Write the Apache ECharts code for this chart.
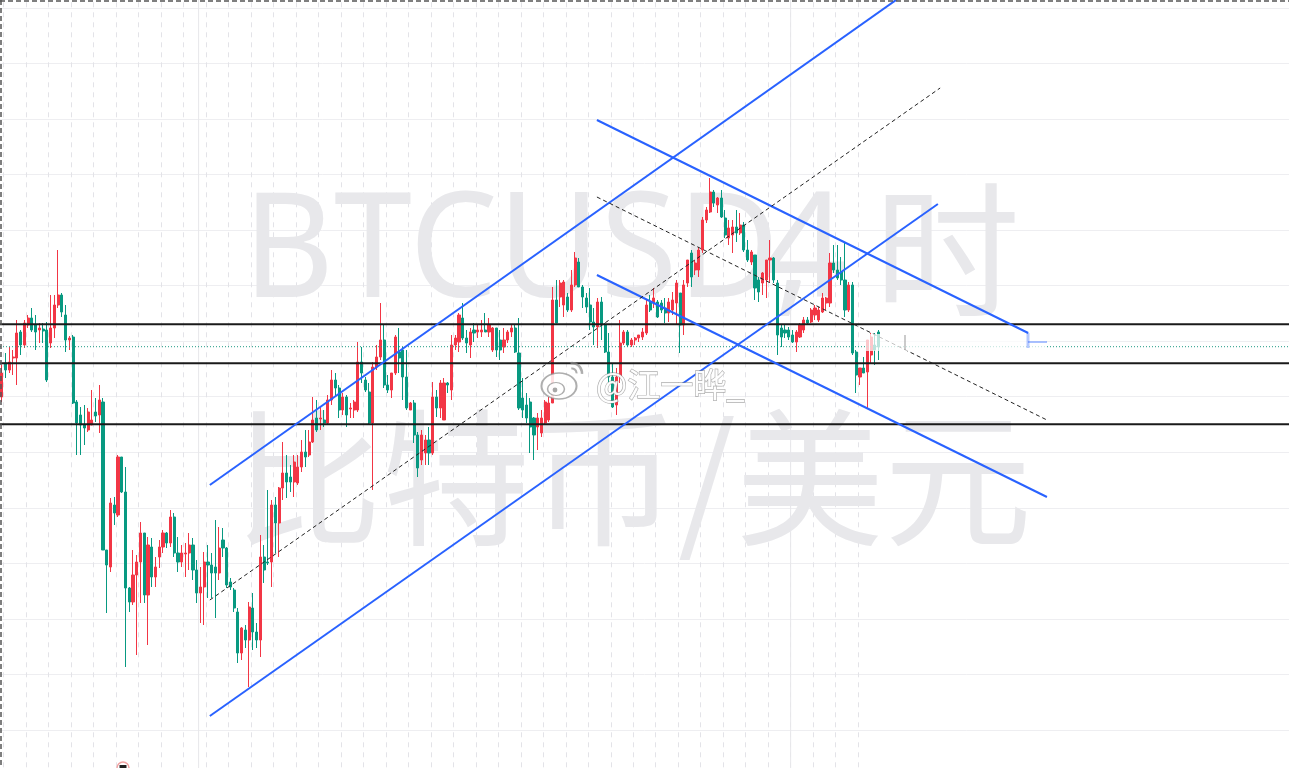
<!DOCTYPE html>
<html><head><meta charset="utf-8">
<script src="https://cdn.jsdelivr.net/npm/echarts@6/dist/echarts.min.js"></script>
<style>html,body{margin:0;padding:0;background:#fff;overflow:hidden}#c{width:1289px;height:768px}</style>
</head><body><div id="c"></div>
<script>
// BTCUSD 4h candles: [open, close, low, high]
const candles = [
[58880,59120,58830,59200],[59220,59150,59070,59320],[59150,59230,59120,59380],[59270,59280,59100,59350],[59270,59520,59000,59650],
[59530,59400,59300,59550],[59400,59620,59370,59650],[59600,59670,59570,59700],[59670,59550,59530,59770],[59600,59530,59350,59700],
[59550,59570,59420,59620],[59560,59540,59420,59620],[59550,59050,59030,59630],[59420,59570,59370,59900],[59570,59800,59470,59900],
[59800,59900,59770,60350],[59900,59730,59680,59920],[59700,59450,59330,59800],[59450,59470,59350,59490],[59480,58820,58810,59500],
[58830,58620,58300,58850],[58700,58600,58300,58780],[58600,58570,58400,58800],[58550,58730,58530,58770],[58600,58650,58600,58950],
[58730,58690,58630,58870],[58700,58850,58520,59000],[58830,57350,57350,58870],[57350,57200,56720,57350],[57180,57820,57130,57870],
[57800,57720,57600,57880],[57700,58280,57680,58300],[58280,57930,57920,58280],[57930,56970,56180,58180],[56970,56830,56730,56980],
[56830,57100,56800,57350],[57100,57230,56300,57300],[57230,57520,56820,57630],[57520,56900,56820,57520],[56900,57400,56400,57480],
[57380,57080,56980,57470],[57080,57180,56980,57280],[57280,57380,57170,57450],[57380,57520,57320,57550],[57520,57420,57370,57530],
[57420,57680,57380,57750],[57680,57320,57280,57720],[57320,57230,57130,57480],[57230,57320,57180,57400],[57310,57320,57080,57420],
[57320,57400,57150,57520],[57400,57150,57050,57470],[57150,56920,56820,57250],[56920,56980,56620,57180],[56980,57230,56600,57330],
[57230,57200,56870,57400],[57200,57120,56870,57320],[57180,57120,56670,57650],[57120,57370,57050,57580],[57450,57370,57280,57570],
[57370,57000,56970,57380],[57030,56980,56950,57070],[56950,56770,56730,56970],[56730,56320,56220,56770],[56320,56570,56250,56580],
[56550,56450,56370,56600],[56450,56780,55980,56830],[56770,56530,56350,56920],[56530,56450,56370,56620],[56450,57280,56280,57500],
[57280,57150,57020,57400],[57230,57220,57200,57950],[57230,57800,56980,57850],[57800,57620,57320,57880],[57620,57970,57280,57980],
[57970,58120,57850,58430],[58120,58030,57870,58300],[58080,58030,57930,58200],[58030,58230,57880,58300],[58020,58180,58000,58300],
[58180,58330,58130,58450],[58330,58280,58180,58550],[58300,58430,58280,58550],[58430,58650,58420,58880],[58670,58550,58530,58850],
[58660,58670,58550,58780],[58650,58620,58580,58750],[58620,58850,58600,58900],[58850,59050,58800,59150],[59050,58970,58880,59120],
[58970,58750,58670,59000],[58750,58880,58700,58920],[58880,58700,58580,58900],[58760,58770,58670,58820],[58750,58830,58670,58850],
[58750,59230,58730,59430],[59230,59120,59020,59380],[59050,58950,58930,59080],[58930,58620,58610,59020],[58620,59180,57950,59230],
[59180,59280,59150,59400],[59280,59450,59250,59820],[59450,59000,58970,59600],[59000,58950,58920,59100],[58950,59120,58870,59120],
[59120,59480,59100,59500],[59330,59270,59120,59570],[59350,59080,58850,59380],[59080,58770,58750,59350],[58750,58820,58750,58830],
[58820,58500,58420,58850],[58500,58170,58080,58530],[58250,58500,58200,58550],[58320,58450,58200,58500],[58450,58320,58200,58580],
[58320,58880,58300,59030],[58880,58770,58680,58950],[58770,59020,58670,59050],[58650,59020,58650,59070],[59020,59000,58920,59030],
[58950,59400,58850,59500],[59400,59470,59350,59500],[59430,59700,59330,59720],[59670,59470,59450,59820],[59470,59420,59320,59550],
[59400,59530,59270,59570],[59550,59520,59430,59620],[59530,59550,59470,59600],[59530,59550,59480,59650],[59550,59530,59530,59720],
[59530,59600,59480,59670],[59350,59570,59330,59580],[59570,59350,59280,59570],[59450,59350,59250,59550],[59380,59450,59320,59570],
[59450,59530,59420,59550],[59530,59570,59480,59600],[59570,59330,59320,59600],[59320,58770,58750,59670],[58870,58750,58670,59070],
[58800,58670,58620,58920],[58830,58580,58320,58870],[58670,58500,58250,58680],[58580,58670,58350,58720],[58520,58670,58480,58750],
[58620,58830,58600,58850],[58650,58820,58630,58880],[58820,59850,58820,59980],[59850,59620,59620,60050],[59880,60020,59780,60050],
[59800,60030,59680,60050],[59880,59750,59730,59920],[59750,60000,59730,60150],[60000,60270,59980,60330],[60230,59980,59980,60270],
[59980,59880,59770,60000],[59870,59780,59720,59920],[59800,59630,59550,59970],[59630,59580,59400,59770],[59580,59830,59370,59870],
[59830,59600,59450,59880],[59600,59330,59320,59620],[59330,59080,59020,59520],[59080,58780,58770,59220],[58800,59080,58700,59170],
[59080,59420,59020,59650],[59420,59530,59400,59550],[59530,59400,59380,59550],[59400,59450,59380,59470],[59450,59470,59400,59480],
[59470,59500,59430,59500],[59480,59530,59450,59570],[59520,59800,59500,59850],[59830,59750,59730,59900],[59820,59870,59770,59970],
[59830,59680,59670,59850],[59820,59750,59720,59850],[59770,59720,59620,59870],[59720,59830,59630,59870],[59750,59850,59700,59930],
[59820,60020,59600,60050],[59920,59600,59320,59920],[59600,60000,59500,60050],[60020,60250,59980,60250],[60320,60080,59980,60350],
[60150,60220,60100,60250],[60150,60350,60080,60380],[60350,60650,60320,60680],[60650,60750,60620,60780],[60730,60930,60720,61070],
[60930,60820,60780,60950],[60800,60870,60720,60880],[60870,60680,60670,60950],[60670,60500,60470,60750],[60470,60570,60400,60650],
[60500,60580,60320,60650],[60580,60520,60430,60750],[60520,60600,60500,60720],[60600,60350,60330,60630],[60350,60250,60230,60450],
[60230,60330,60200,60350],[60300,59970,59850,60300],[60050,59930,59830,60080],[60020,60120,59900,60130],[60050,60250,59870,60250],
[60250,60270,60030,60450],[60270,60050,60020,60280],[60020,59500,59300,60050],[59570,59480,59380,59600],[59550,59520,59470,59600],
[59550,59480,59450,59580],[59500,59430,59420,59550],[59430,59530,59330,59550],[59480,59600,59470,59620],[59550,59650,59520,59680],
[59650,59620,59600,59680],[59630,59750,59620,59770],[59700,59770,59650,59800],[59650,59750,59630,59780],[59730,59870,59720,59920],
[59820,59870,59750,59880],[59820,60220,59780,60320],[60220,60150,60120,60400],[60150,60070,60050,60400],[60130,60050,60000,60280],
[60050,59750,59680,60430],[59750,60000,59730,60030],[60000,59320,59300,60030],[59330,59100,58920,59350],[59080,59170,59000,59170],
[59170,59120,59120,59280],[59130,59450,58770,59450],[59300,59480,59220,59520],[59400,59350,59200,59520],[59530,59380,59250,59550]
];
const barSlots = 344;                       // bars visible incl. empty future space
const categories = Array.from({length: barSlots}, (_, i) => 'K' + (i + 1));
const levelPrices = [59607, 59217, 58607];  // horizontal support / resistance
const lastPrice = 59383;
const sessionBreaks = [53, 211];            // bar index where a session starts
// trendlines: [[barIndex, price], [barIndex, price]]
const channelLines = [
  [[55.5, 58000], [247.7, 63090]],
  [[55.5, 55690], [249.8, 60810]],
  [[158.8, 61650], [273.9, 59520]],
  [[158.8, 60100], [278.9, 57880]]
];
const midLines = [
  [[55.5, 56850], [250.4, 61970]],
  [[158.8, 60880], [278.9, 58650]]
];
const priceMin = 54994.5, priceMax = 63327, priceStep = 555.5;

const UP = '#f23645', DOWN = '#089981', BLUE = '#2962ff';
const series = [];
series.push({
  type: 'candlestick', data: candles, xAxisIndex: 0, yAxisIndex: 0, z: 3,
  barWidth: 2.6, animation: false, silent: true,
  itemStyle: {color: UP, color0: DOWN, borderColor: UP, borderColor0: DOWN, borderWidth: 1}
});
function seg(pts, style, z) {
  series.push({type: 'line', xAxisIndex: 1, yAxisIndex: 0, data: pts, symbol: 'none', silent: true,
    animation: false, clip: false, z: z, lineStyle: style});
}
sessionBreaks.forEach(b => seg([[b - 0.5, priceMin], [b - 0.5, priceMax]], {color: '#e7e7eb', width: 1}, 1));
levelPrices.forEach(p => seg([[-0.5, p], [barSlots - 0.5, p]], {color: '#1a1a1a', width: 2}, 6));
seg([[-0.5, lastPrice], [barSlots - 0.5, lastPrice]], {color: '#1f9b84', width: 1, type: [1, 2]}, 4);
channelLines.forEach(l => seg(l, {color: BLUE, width: 2}, 7));
midLines.forEach(l => seg(l, {color: '#222', width: 1, type: [4, 3]}, 7));

const wm = '#e8e8eb';
const option = {
  backgroundColor: '#ffffff',
  animation: false,
  grid: {left: 0, right: 0, top: -47.7, bottom: -17.55, containLabel: false, outerBoundsMode: 'none'},
  xAxis: [
    {type: 'category', data: categories, boundaryGap: true,
     axisLine: {show: false}, axisTick: {show: false}, axisLabel: {show: false},
     splitLine: {show: true, interval: (i) => i % 6 === 1 && i <= 229,
                 lineStyle: {color: '#e3e3e8', width: 1, type: [5, 5]}}},
    {type: 'value', min: -0.5, max: barSlots - 0.5, show: false, splitLine: {show: false}}
  ],
  yAxis: [{type: 'value', min: priceMin, max: priceMax, interval: priceStep, scale: true,
    axisLine: {show: false}, axisTick: {show: false}, axisLabel: {show: false},
    splitLine: {show: true, lineStyle: {color: '#eeeef1', width: 1}}}],
  graphic: [
    {type: 'text', x: 243, y: 255, scaleX: 0.96, z: 1, silent: true,
     style: {text: 'BTCUSD,', font: '146px "Noto Sans"', fill: wm, align: 'left', verticalAlign: 'middle'}},
    {type: 'text', x: 764, y: 255, z: 1, silent: true,
     style: {text: '4', font: '146px "Noto Sans"', fill: wm, align: 'left', verticalAlign: 'middle'}},
    {type: 'text', x: 874, y: 250, z: 1, silent: true,
     style: {text: '时', font: '146px "Noto Sans CJK SC"', fill: wm, align: 'left', verticalAlign: 'middle'}},
    {type: 'text', x: 633, y: 478, z: 1, silent: true,
     style: {text: '比特币/美元', font: '148px "Noto Sans CJK SC"', fill: wm, align: 'center', verticalAlign: 'middle'}},
    // fade band over last bars
    {type: 'rect', z: 20, silent: true, shape: {x: 866, y: 334, width: 180, height: 17},
     style: {fill: 'rgba(255,255,255,0.72)'}},
    {type: 'line', z: 21, silent: true, shape: {x1: 905, y1: 335, x2: 905, y2: 350}, style: {stroke: 'rgba(140,140,140,0.45)', lineWidth: 2}},
    {type: 'line', z: 21, silent: true, shape: {x1: 1028, y1: 333, x2: 1028, y2: 348}, style: {stroke: 'rgba(41,98,255,0.35)', lineWidth: 3}},
    {type: 'line', z: 21, silent: true, shape: {x1: 1028, y1: 342, x2: 1047, y2: 342}, style: {stroke: 'rgba(41,98,255,0.4)', lineWidth: 2}},
    // weibo watermark
    {type: 'circle', x: 559, y: 386, scaleX: 1.35, z: 22, silent: true, shape: {cx: 0, cy: 0, r: 13},
     style: {fill: 'rgba(255,255,255,0.85)', stroke: 'rgba(140,140,140,0.7)', lineWidth: 1.5}},
    {type: 'circle', x: 556, y: 389, scaleX: 1.3, z: 23, silent: true, shape: {cx: 0, cy: 0, r: 6.5},
     style: {fill: 'rgba(255,255,255,0.9)', stroke: 'rgba(140,140,140,0.7)', lineWidth: 1.2}},
    {type: 'circle', z: 23, silent: true, shape: {cx: 555, cy: 390, r: 2.4}, style: {fill: 'rgba(130,130,130,0.7)'}},
    {type: 'arc', z: 23, silent: true, shape: {cx: 572, cy: 373, r: 10, startAngle: -Math.PI * 0.55, endAngle: 0.1},
     style: {stroke: 'rgba(140,140,140,0.7)', lineWidth: 2.5, fill: 'none'}},
    {type: 'arc', z: 23, silent: true, shape: {cx: 572, cy: 373, r: 4.5, startAngle: -Math.PI * 0.55, endAngle: 0.1},
     style: {stroke: 'rgba(140,140,140,0.7)', lineWidth: 2, fill: 'none'}},
    {type: 'text', x: 596, y: 384, z: 23, silent: true,
     style: {text: '@江一晔_', font: '33px "Noto Sans CJK SC"', fill: 'rgba(255,255,255,0.95)',
             stroke: 'rgba(130,130,130,0.65)', lineWidth: 1.3, align: 'left', verticalAlign: 'middle',
             shadowColor: 'rgba(0,0,0,0.25)', shadowBlur: 2, shadowOffsetX: 1, shadowOffsetY: 1}},
    // bottom event marker
    {type: 'circle', z: 22, silent: true, shape: {cx: 123, cy: 768, r: 6}, style: {fill: '#fff', stroke: '#f1a3a3', lineWidth: 1.5}},
    {type: 'rect', z: 23, silent: true, shape: {x: 119.5, y: 765, width: 7, height: 4}, style: {fill: '#222'}},
    // dashed frame
    {type: 'line', z: 30, silent: true, shape: {x1: 0, y1: 1, x2: 1289, y2: 1}, style: {stroke: '#555', lineWidth: 1.5, lineDash: [5, 3]}},
    {type: 'line', z: 30, silent: true, shape: {x1: 1, y1: 0, x2: 1, y2: 768}, style: {stroke: '#555', lineWidth: 1.5, lineDash: [5, 3]}}
  ],
  series: series
};
const chart = echarts.init(document.getElementById('c'));
chart.setOption(option);
</script>
</body></html>
